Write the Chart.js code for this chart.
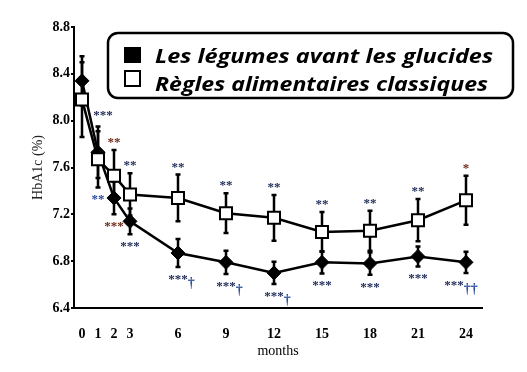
<!DOCTYPE html>
<html>
<head>
<meta charset="utf-8">
<script src="https://cdn.jsdelivr.net/npm/chart.js@4.4.1/dist/chart.umd.min.js"></script>
<style>
  html, body { margin: 0; padding: 0; background: #fff; }
  canvas { display: block; }
</style>
</head>
<body>
<canvas id="hba1c" width="527" height="372"></canvas>
<script>
// donnees
const months = [0, 1, 2, 3, 6, 9, 12, 15, 18, 21, 24];
const monthTicks = [0, 1, 2, 3, 6, 9, 12, 15, 18, 21, 24];
const yTicks = [6.4, 6.8, 7.2, 7.6, 8.0, 8.4, 8.8];
const seriesNames = ['Les légumes avant les glucides', 'Règles alimentaires classiques'];

const legumesVals = [8.34, 7.73, 7.34, 7.14, 6.87, 6.79, 6.70, 6.79, 6.78, 6.84, 6.79];
const legumesErr  = [0.21, 0.22, 0.14, 0.11, 0.12, 0.10, 0.095, 0.095, 0.095, 0.085, 0.09];
const classVals   = [8.18, 7.67, 7.53, 7.37, 7.34, 7.21, 7.17, 7.05, 7.06, 7.15, 7.32];
const classErr    = [0.32, 0.24, 0.22, 0.18, 0.20, 0.17, 0.195, 0.17, 0.17, 0.18, 0.21];

// significativite
const starsAbove = ['', '***', '**', '**', '**', '**', '**', '**', '**', '**', '*'];
const starsBelow = ['', '**', '***', '***', '***', '***', '***', '***', '***', '***', '***'];
const daggers    = ['', '', '', '', '†', '†', '†', '', '', '', '††'];

const navy = '#1e2a55';
const brown = '#6e2b17';
const daggerBlue = '#2a4f9a';

// barres d'erreur (sous les marqueurs)
const errorBars = {
    id: 'errorBars',
    beforeDatasetsDraw(chart) {
        const ctx = chart.ctx;
        const x = chart.scales.x, y = chart.scales.y;
        const sets = [[legumesVals, legumesErr], [classVals, classErr]];
        ctx.save();
        ctx.strokeStyle = '#000';
        ctx.lineWidth = 2.5;
        sets.forEach(([vals, errs]) => {
            vals.forEach((v, i) => {
                const px = x.getPixelForValue(months[i]);
                const top = y.getPixelForValue(v + errs[i]);
                const bot = y.getPixelForValue(v - errs[i]);
                ctx.beginPath();
                ctx.moveTo(px, top); ctx.lineTo(px, bot);
                ctx.moveTo(px - 2.5, top); ctx.lineTo(px + 2.5, top);
                ctx.moveTo(px - 2.5, bot); ctx.lineTo(px + 2.5, bot);
                ctx.stroke();
            });
        });
        ctx.restore();
    }
};

// etoiles et croix
const annotations = {
    id: 'annotations',
    afterDatasetsDraw(chart) {
        const ctx = chart.ctx;
        const x = chart.scales.x, y = chart.scales.y;
        ctx.save();
        ctx.font = 'bold 13px "Liberation Serif"';
        ctx.textBaseline = 'alphabetic';
        months.forEach((m, i) => {
            const px = x.getPixelForValue(m);
            const top = Math.min(y.getPixelForValue(legumesVals[i] + legumesErr[i]), y.getPixelForValue(classVals[i] + classErr[i]));
            const bot = Math.max(y.getPixelForValue(legumesVals[i] - legumesErr[i]), y.getPixelForValue(classVals[i] - classErr[i]));
            if (starsAbove[i]) {
                ctx.textAlign = 'center';
                ctx.fillStyle = (i === 2 || i === 10) ? brown : navy;
                ctx.fillText(starsAbove[i], i === 1 ? px + 5 : px, i === 1 ? top - 8 : top - 4);
            }
            if (starsBelow[i]) {
                ctx.textAlign = 'center';
                ctx.fillStyle = i === 1 ? '#2b4a9a' : (i === 2 ? brown : navy);
                const w = ctx.measureText(starsBelow[i]).width;
                const sx = i === 10 ? px - 12 : px;
                ctx.fillText(starsBelow[i], sx, bot + 16);
                if (daggers[i]) {
                    ctx.textAlign = 'left';
                    ctx.fillStyle = daggerBlue;
                    ctx.font = 'bold 14px "Liberation Serif"';
                    ctx.fillText(daggers[i], sx + w / 2, bot + 20);
                    ctx.font = 'bold 13px "Liberation Serif"';
                }
            }
        });
        ctx.restore();
    }
};

// legende encadree
const boxLegend = {
    id: 'boxLegend',
    afterDraw(chart) {
        const ctx = chart.ctx;
        ctx.save();
        ctx.strokeStyle = '#000';
        ctx.lineWidth = 2.5;
        ctx.beginPath();
        ctx.roundRect(108, 33, 405, 65, 10);
        ctx.stroke();

        ctx.fillStyle = '#000';
        ctx.fillRect(124, 47, 17, 16);
        ctx.lineWidth = 2;
        ctx.strokeRect(125, 71, 15, 15);

        ctx.font = 'italic bold 20px "Open Sans"';
        ctx.textAlign = 'left';
        ctx.textBaseline = 'alphabetic';
        const lines = [[seriesNames[0], 63, 338], [seriesNames[1], 91, 333]];
        lines.forEach(([txt, base, target]) => {
            const k = target / ctx.measureText(txt).width;
            ctx.save();
            ctx.translate(155, base);
            ctx.scale(k, 1);
            ctx.fillText(txt, 0, 0);
            ctx.restore();
        });
        ctx.restore();
    }
};

const chart = new Chart(document.getElementById('hba1c'), {
    type: 'line',
    data: {
        datasets: [
            {
                label: seriesNames[0],
                data: months.map((m, i) => ({ x: m, y: legumesVals[i] })),
                borderColor: '#000',
                borderWidth: 2.5,
                pointStyle: 'rectRot',
                pointRadius: 7,
                pointBackgroundColor: '#000',
                pointBorderColor: '#000',
                pointBorderWidth: 1,
                order: 1
            },
            {
                label: seriesNames[1],
                data: months.map((m, i) => ({ x: m, y: classVals[i] })),
                borderColor: '#000',
                borderWidth: 2.5,
                pointStyle: 'rect',
                pointRadius: 8.5,
                pointBackgroundColor: '#fff',
                pointBorderColor: '#000',
                pointBorderWidth: 2,
                order: 0
            }
        ]
    },
    options: {
        responsive: false,
        animation: false,
        devicePixelRatio: 1,
        clip: false,
        layout: { padding: { left: 0, top: 27, right: 45, bottom: 0 } },
        plugins: {
            legend: { display: false },
            tooltip: { enabled: false }
        },
        scales: {
            x: {
                type: 'linear',
                min: -0.5,
                max: 25,
                afterBuildTicks: axis => { axis.ticks = monthTicks.map(v => ({ value: v })); },
                afterFit: scale => { scale.height = 64; },
                grid: { display: false },
                border: { color: '#000', width: 2 },
                ticks: {
                    autoSkip: false,
                    maxRotation: 0,
                    padding: 10,
                    color: '#000',
                    font: { family: 'Liberation Serif', size: 14, weight: 'bold' }
                },
                title: {
                    display: true,
                    text: 'months',
                    color: '#000',
                    padding: { top: 0, bottom: 12 },
                    font: { family: 'Liberation Serif', size: 14 }
                }
            },
            y: {
                min: 6.4,
                max: 8.8,
                afterBuildTicks: axis => { axis.ticks = yTicks.map(v => ({ value: v })); },
                afterFit: scale => { scale.width = 74; },
                grid: { drawOnChartArea: false, drawTicks: true, tickLength: 3, color: '#000', lineWidth: 2 },
                border: { color: '#000', width: 2 },
                ticks: {
                    padding: 1,
                    color: '#000',
                    callback: v => v.toFixed(1),
                    font: { family: 'Liberation Serif', size: 14, weight: 'bold' }
                },
                title: {
                    display: true,
                    text: 'HbA1c (%)',
                    color: '#222',
                    padding: { top: 30, bottom: 0 },
                    font: { family: 'Liberation Serif', size: 14 }
                }
            }
        }
    },
    plugins: [errorBars, annotations, boxLegend]
});
</script>
</body>
</html>
